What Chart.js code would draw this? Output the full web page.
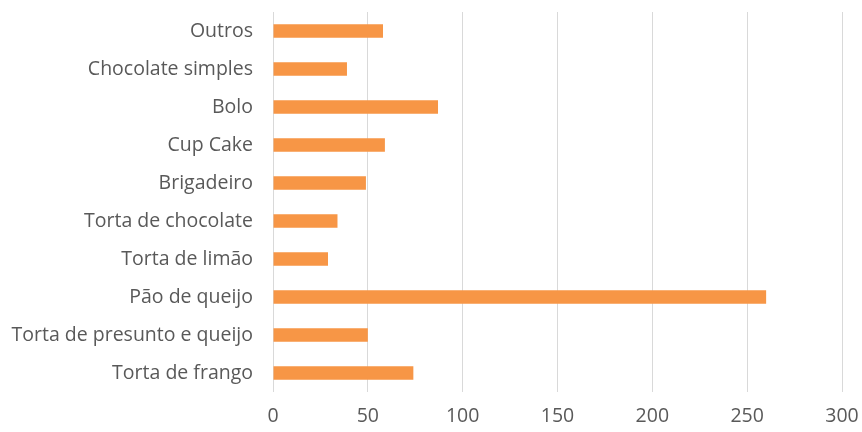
<!DOCTYPE html>
<html>
<head>
<meta charset="utf-8">
<script src="https://cdn.jsdelivr.net/npm/chart.js@4"></script>
<style>
  html, body { margin: 0; padding: 0; background: #fff; }
  #wrap { width: 862px; height: 432px; }
</style>
</head>
<body>
<div id="wrap"><canvas id="vendas"></canvas></div>
<script>
var categorias = ['Outros', 'Chocolate simples', 'Bolo', 'Cup Cake', 'Brigadeiro',
    'Torta de chocolate', 'Torta de limão', 'Pão de queijo',
    'Torta de presunto e queijo', 'Torta de frango'];
var quantidades = [58, 39, 87, 59, 49, 34, 29, 260, 50, 74];
var ticksX = [0, 50, 100, 150, 200, 250, 300];

document.addEventListener('DOMContentLoaded', function () {
    var ctx = document.getElementById('vendas').getContext('2d');
    new Chart(ctx, {
        type: 'bar',
        data: {
            labels: categorias,
            datasets: [{
                data: quantidades,
                backgroundColor: '#F79646',
                borderWidth: 0,
                categoryPercentage: 1,
                barPercentage: 0.35
            }]
        },
        options: {
            indexAxis: 'y',
            responsive: true,
            maintainAspectRatio: false,
            animation: false,
            layout: { padding: { top: 12, right: 20, bottom: 0, left: 0 } },
            plugins: {
                legend: { display: false },
                tooltip: { enabled: false }
            },
            scales: {
                x: {
                    min: 0,
                    max: 300,
                    afterBuildTicks: function (s) {
                        s.ticks = ticksX.map(function (v) { return { value: v }; });
                    },
                    afterFit: function (s) {
                        s.height = 40;
                        s.paddingLeft = 0;
                        s.paddingRight = 0;
                    },
                    grid: { color: '#d9d9d9', drawTicks: false },
                    border: { display: false },
                    ticks: {
                        padding: 13,
                        color: '#595959',
                        font: { family: 'Open Sans', size: 19.5 }
                    }
                },
                y: {
                    afterFit: function (s) {
                        s.width = 273;
                        s.paddingTop = 0;
                        s.paddingBottom = 0;
                    },
                    grid: { display: false, drawTicks: false },
                    border: { display: false },
                    ticks: {
                        padding: 20,
                        color: '#595959',
                        font: { family: 'Open Sans', size: 19.5 }
                    }
                }
            }
        }
    });
});
</script>
</body>
</html>
